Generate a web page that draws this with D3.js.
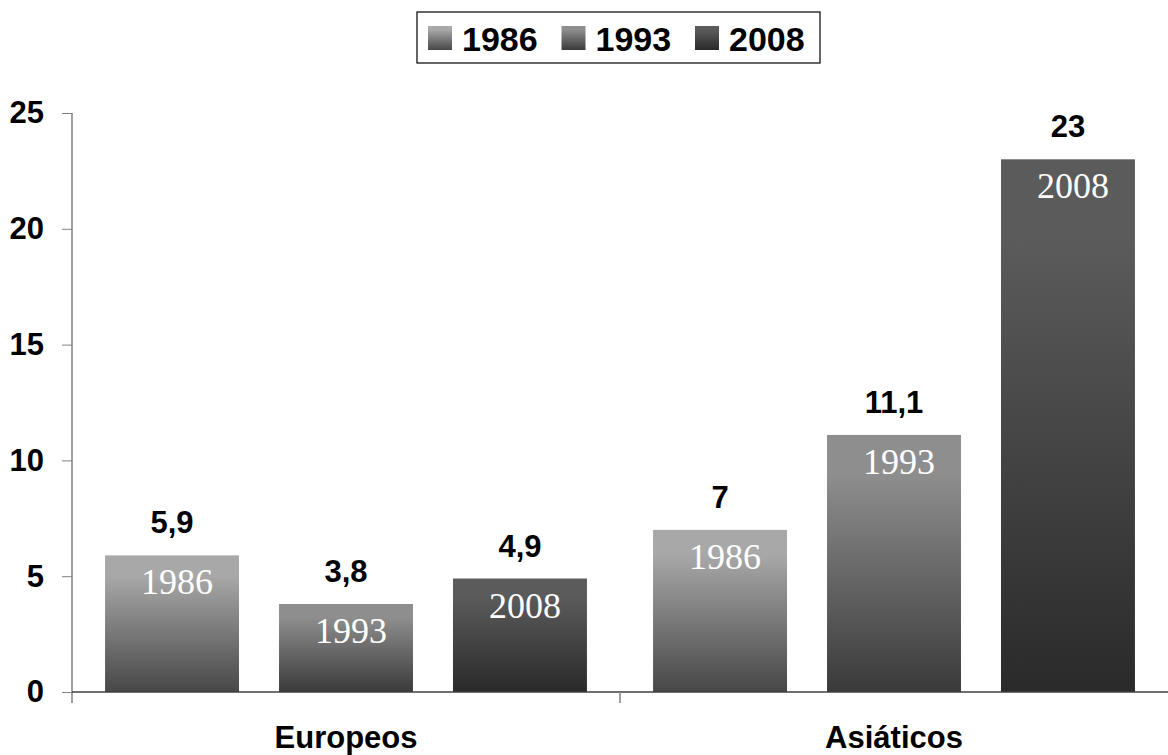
<!DOCTYPE html>
<html>
<head>
<meta charset="utf-8">
<script src="https://cdn.jsdelivr.net/npm/d3@7"></script>
<style>
  body { margin: 0; background: #fff; }
  svg { display: block; font-family: "Liberation Sans", Arial, sans-serif; }
</style>
</head>
<body>
<script>
// data
const categories = ["Europeos", "Asiáticos"];
const years = ["1986", "1993", "2008"];
const values1986 = [5.9, 7];
const values1993 = [3.8, 11.1];
const values2008 = [4.9, 23];
const yTicks = [0, 5, 10, 15, 20, 25];

const width = 1168, height = 755;
const plot = {left: 72, right: 1168, top: 113, bottom: 692};

// gradient colours per series (top -> bottom)
const shades = {
  "1986": ["#a8a8a8", "#474747"],
  "1993": ["#8e8e8e", "#3a3a3a"],
  "2008": ["#5b5b5b", "#2a2a2a"]
};

const rows = [];
categories.forEach((c, i) => {
  rows.push({cat: c, year: "1986", value: values1986[i]});
  rows.push({cat: c, year: "1993", value: values1993[i]});
  rows.push({cat: c, year: "2008", value: values2008[i]});
});

const svg = d3.select("body").append("svg")
  .attr("width", width)
  .attr("height", height);

// gradients
const defs = svg.append("defs");
years.forEach(y => {
  const g = defs.append("linearGradient")
    .attr("id", "grad" + y)
    .attr("x1", 0).attr("y1", 0).attr("x2", 0).attr("y2", 1);
  g.append("stop").attr("offset", "0%").attr("stop-color", shades[y][0]);
  g.append("stop").attr("offset", "15%").attr("stop-color", shades[y][0]);
  g.append("stop").attr("offset", "100%").attr("stop-color", shades[y][1]);
});

// scales
const x0 = d3.scaleBand()
  .domain(categories)
  .range([plot.left, plot.right])
  .paddingInner(0)
  .paddingOuter(0);

const x1 = d3.scaleBand()
  .domain(years)
  .range([0, x0.bandwidth()])
  .paddingInner(0.23)
  .paddingOuter(0.19);

const yScale = d3.scaleLinear()
  .domain([0, 25])
  .range([plot.bottom, plot.top]);

// bars
const bars = svg.append("g").selectAll("g")
  .data(rows)
  .enter()
  .append("g")
  .attr("transform", d => `translate(${x0(d.cat) + x1(d.year)},0)`);

bars.append("rect")
  .attr("x", 0)
  .attr("y", d => yScale(d.value))
  .attr("width", x1.bandwidth())
  .attr("height", d => yScale(0) - yScale(d.value))
  .attr("fill", d => `url(#grad${d.year})`);

// value labels above bars
bars.append("text")
  .attr("x", x1.bandwidth() / 2)
  .attr("y", d => yScale(d.value) - 22)
  .attr("text-anchor", "middle")
  .attr("font-weight", "bold")
  .attr("font-size", 31)
  .attr("fill", "#000")
  .text(d => String(d.value).replace(".", ","));

// year labels inside bars
bars.append("text")
  .attr("x", x1.bandwidth() / 2 + 5)
  .attr("y", d => yScale(d.value) + 39)
  .attr("text-anchor", "middle")
  .attr("font-family", "'Liberation Serif', 'Times New Roman', serif")
  .attr("font-size", 36)
  .attr("fill", "#fff")
  .text(d => d.year);

// y axis
const yAxis = d3.axisLeft(yScale)
  .tickValues(yTicks)
  .tickSize(10)
  .tickPadding(18)
  .tickFormat(d3.format("d"));

const yAxisGroup = svg.append("g")
  .attr("transform", `translate(${plot.left},0)`)
  .call(yAxis);
yAxisGroup.select(".domain").remove();
yAxisGroup.selectAll(".tick line").attr("stroke", "#808080");
yAxisGroup.selectAll(".tick text")
  .attr("font-family", "'Liberation Sans', Arial, sans-serif")
  .attr("font-size", 31)
  .attr("font-weight", "bold")
  .attr("fill", "#000");
svg.append("line")
  .attr("x1", plot.left).attr("x2", plot.left)
  .attr("y1", plot.top).attr("y2", plot.bottom + 11)
  .attr("stroke", "#808080")
  .attr("stroke-width", 1.5);

// x axis
svg.append("line")
  .attr("x1", plot.left).attr("x2", plot.right)
  .attr("y1", plot.bottom).attr("y2", plot.bottom)
  .attr("stroke", "#404040")
  .attr("stroke-width", 1.5);

svg.append("g").selectAll("line")
  .data(categories.slice(1))
  .enter()
  .append("line")
  .attr("x1", d => x0(d)).attr("x2", d => x0(d))
  .attr("y1", plot.bottom).attr("y2", plot.bottom + 11)
  .attr("stroke", "#808080")
  .attr("stroke-width", 1.5);

svg.append("g").selectAll("text")
  .data(categories)
  .enter()
  .append("text")
  .attr("x", d => x0(d) + x0.bandwidth() / 2)
  .attr("y", 748)
  .attr("text-anchor", "middle")
  .attr("font-weight", "bold")
  .attr("font-size", 31)
  .attr("fill", "#000")
  .text(d => d);

// legend
const legend = svg.append("g").attr("transform", "translate(417,12)");
legend.append("rect")
  .attr("width", 403)
  .attr("height", 51)
  .attr("fill", "#fff")
  .attr("stroke", "#000")
  .attr("stroke-width", 1.2);

const items = legend.selectAll("g.item")
  .data(years)
  .enter()
  .append("g")
  .attr("class", "item")
  .attr("transform", (d, i) => `translate(${11 + i * 133.5},14)`);

items.append("rect")
  .attr("width", 24)
  .attr("height", 24)
  .attr("fill", d => `url(#grad${d})`);

items.append("text")
  .attr("x", 34)
  .attr("y", 24.5)
  .attr("font-weight", "bold")
  .attr("font-size", 34)
  .attr("fill", "#000")
  .text(d => d);
</script>
</body>
</html>
